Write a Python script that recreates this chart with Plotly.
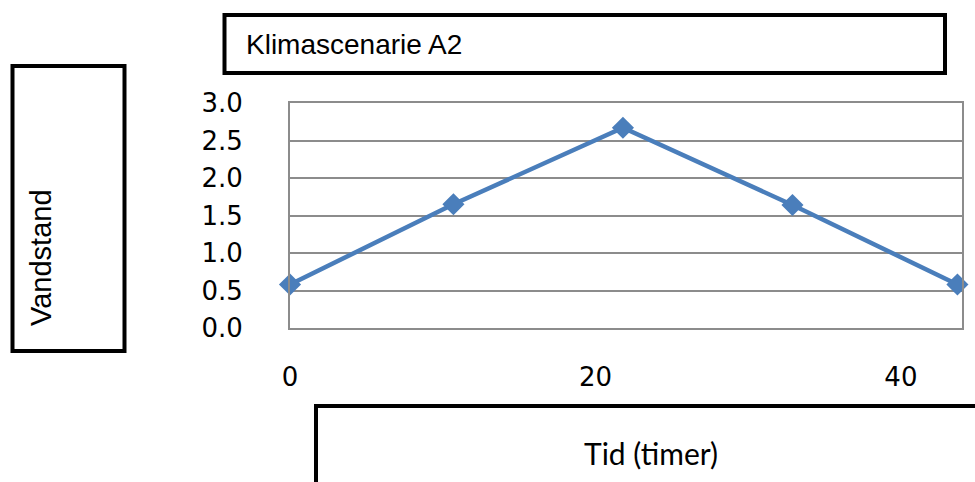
import plotly.graph_objects as go

# Water level over time, climate scenario A2
hours = [0, 10.7, 21.8, 32.9, 43.7]
water_level = [0.58, 1.65, 2.67, 1.64, 0.58]

y_ticks = [0.0, 0.5, 1.0, 1.5, 2.0, 2.5, 3.0]
x_ticks = [0, 20, 40]

title_text = "Klimascenarie A2"
y_title = "Vandstand"
x_title = "Tid (timer)"

W, H = 975, 482
L, R, T, B = 290, 13, 103, 154
PW, PH = W - L - R, H - T - B


def px(x):
    return (x - L) / PW


def py(y):
    return (H - B - y) / PH


LINE_BLUE = "#4a7ebb"
GRID = "#8c8c8c"

fig = go.Figure()
fig.add_trace(go.Scatter(
    x=hours, y=water_level, mode="lines+markers",
    line=dict(color=LINE_BLUE, width=4.5),
    marker=dict(symbol="diamond", size=17, color=LINE_BLUE),
    cliponaxis=False, showlegend=False,
))

box_line = dict(color="black", width=4)
shapes = [
    # title box
    dict(type="rect", xref="paper", yref="paper",
         x0=px(224.5), x1=px(945), y0=py(73), y1=py(15), line=box_line),
    # y-axis label box
    dict(type="rect", xref="paper", yref="paper",
         x0=px(12.5), x1=px(124.5), y0=py(351), y1=py(66), line=box_line),
    # x-axis label box (runs past the page edge)
    dict(type="rect", xref="paper", yref="paper",
         x0=px(316), x1=px(990), y0=py(500), y1=py(406), line=box_line),
]

annotations = [
    dict(text=title_text, xref="paper", yref="paper", x=px(244), y=py(45),
         xanchor="left", yanchor="middle", showarrow=False,
         font=dict(family="Liberation Sans, Arial", size=28, color="black")),
    dict(text=y_title, xref="paper", yref="paper", x=px(41), y=py(258),
         xanchor="center", yanchor="middle", showarrow=False, textangle=-90,
         font=dict(family="Liberation Sans, Arial", size=29, color="black")),
    dict(text=x_title, xref="paper", yref="paper", x=px(651), y=py(453),
         xanchor="center", yanchor="middle", showarrow=False,
         font=dict(family="Lato, Open Sans", size=30, color="black")),
]

tick_font = dict(family="DejaVu Sans", size=26, color="black")

fig.update_layout(
    width=W, height=H,
    margin=dict(l=L, r=R, t=T, b=B, pad=0),
    paper_bgcolor="white", plot_bgcolor="white",
    shapes=shapes, annotations=annotations,
    xaxis=dict(range=[0, 44], tickvals=x_ticks, ticktext=[str(v) for v in x_ticks],
               showgrid=False, zeroline=False, showline=True, mirror=True,
               linecolor=GRID, linewidth=2, ticks="", ticklabelstandoff=25,
               tickfont=tick_font),
    yaxis=dict(range=[0, 3], tickvals=y_ticks, ticktext=[f"{v:.1f}" for v in y_ticks],
               showgrid=True, gridcolor=GRID, gridwidth=1.5, zeroline=False,
               showline=True, mirror=True, linecolor=GRID, linewidth=2,
               ticks="", ticklabelstandoff=40,
               tickfont=tick_font),
)

fig.write_html("out.html")
